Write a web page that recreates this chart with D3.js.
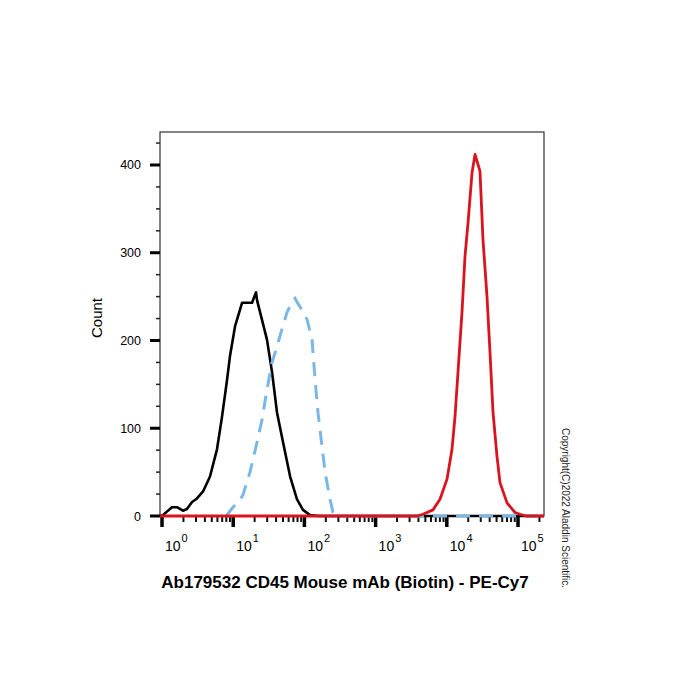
<!DOCTYPE html>
<html>
<head>
<meta charset="utf-8">
<script src="https://cdn.jsdelivr.net/npm/d3@7"></script>
<style>
  body { margin: 0; background: #fff; }
  text { font-family: Arial, "Liberation Sans", sans-serif; }
</style>
</head>
<body>
<div id="chart"></div>
<script>
// histogram data (fluorescence, count)
const blackX = [0.94, 1.03, 1.38, 1.62, 1.97, 2.24, 2.64, 3.1, 3.77, 4.72, 5.92, 6.96, 8.19, 9.0, 10.6, 13.3, 18.4, 20.9, 21.6, 29.8, 35.1, 41.2, 50.1, 63, 78.7, 95.5, 120, 160, 231800];
const blackY = [0, 1, 10, 10, 6, 8, 16, 20, 28, 45, 76, 113, 155, 182, 216, 243, 243, 255, 246, 201, 164, 118, 84, 45, 19, 7, 1, 0, 0];

const blueX = [8, 9.9, 11.7, 13.7, 17.2, 21.6, 25.4, 29.8, 35.1, 41.2, 48.4, 57, 67, 73.8, 81.3, 95.5, 109, 128, 141, 155, 177, 195, 229, 252, 290, 231800];
const blueY = [0, 10, 15, 24, 50, 84, 110, 144, 175, 193, 213, 232, 244, 248, 242, 233, 224, 201, 156, 118, 79, 50, 19, 4, 0, 0];

const redX = [0.94, 3800, 4634, 6400, 8020, 10070, 11830, 13030, 14360, 16340, 18020, 19860, 22600, 24900, 29240, 32220, 36700, 40450, 44580, 50700, 55850, 70100, 90800, 106700, 130000, 231800];
const redY = [0, 0, 2, 7, 19, 42, 76, 113, 164, 232, 296, 334, 391, 412, 393, 315, 250, 186, 118, 68, 38, 15, 4, 2, 0, 0];

const decades = [0, 1, 2, 3, 4, 5];
const yTicks = [0, 100, 200, 300, 400];

const margin = {top: 132, right: 156, bottom: 184, left: 160},
  width = 700 - margin.left - margin.right,
  height = 700 - margin.top - margin.bottom;

const svg = d3.select("#chart")
  .append("svg")
  .attr("width", 700)
  .attr("height", 700)
  .append("g")
  .attr("transform", `translate(${margin.left},${margin.top})`);

const x = d3.scaleLog()
  .domain([0.937, 231800])
  .range([0, width]);

const y = d3.scaleLinear()
  .domain([0, 437.6])
  .range([height, 0]);

// frame
svg.append("rect")
  .attr("width", width)
  .attr("height", height)
  .attr("fill", "none")
  .attr("stroke", "#333")
  .attr("stroke-width", 1.2);

// y axis: minor every 25, major every 100
const yMinor = d3.range(0, 426, 25).filter(v => v % 100 !== 0);
svg.selectAll(".yminor")
  .data(yMinor)
  .join("line")
  .attr("x1", -4).attr("x2", 0)
  .attr("y1", d => y(d)).attr("y2", d => y(d))
  .attr("stroke", "#222").attr("stroke-width", 1.5);
svg.selectAll(".ymajor")
  .data(yTicks)
  .join("line")
  .attr("x1", -10).attr("x2", 0)
  .attr("y1", d => y(d)).attr("y2", d => y(d))
  .attr("stroke", "#000").attr("stroke-width", 3);
svg.selectAll(".ylab")
  .data(yTicks)
  .join("text")
  .attr("x", -19)
  .attr("y", d => y(d) + 4.5)
  .attr("text-anchor", "end")
  .attr("font-size", 12.5)
  .text(d => d);

// x axis: log ticks
const xMinor = [];
decades.forEach(p => { for (let m = 2; m <= 9; m++) xMinor.push(m * Math.pow(10, p)); });
svg.selectAll(".xminor")
  .data(xMinor.filter(v => v <= 231800))
  .join("line")
  .attr("x1", d => x(d)).attr("x2", d => x(d))
  .attr("y1", height).attr("y2", height + 6)
  .attr("stroke", "#111").attr("stroke-width", 2);
svg.selectAll(".xmajor")
  .data(decades)
  .join("line")
  .attr("x1", d => x(Math.pow(10, d))).attr("x2", d => x(Math.pow(10, d)))
  .attr("y1", height).attr("y2", height + 11)
  .attr("stroke", "#000").attr("stroke-width", 3.5);

const xl = svg.selectAll(".xlab")
  .data(decades)
  .join("text")
  .attr("x", d => x(Math.pow(10, d)) + 3)
  .attr("y", height + 35)
  .attr("font-size", 14);
xl.append("tspan").text("10");
xl.append("tspan").attr("dy", -9).attr("dx", 1).attr("font-size", 11).text(d => d);

// curves
const line = d3.line()
  .x(d => x(d[0]))
  .y(d => y(d[1]));

svg.append("path")
  .datum(d3.zip(blackX, blackY))
  .attr("fill", "none")
  .attr("stroke", "#000")
  .attr("stroke-width", 2.6)
  .attr("stroke-linejoin", "round")
  .attr("d", line);

svg.append("path")
  .datum(d3.zip(blueX, blueY))
  .attr("fill", "none")
  .attr("stroke", "#7ab6e6")
  .attr("stroke-width", 3)
  .attr("stroke-dasharray", "14,9")
  .attr("d", line);

svg.append("path")
  .datum(d3.zip(redX, redY))
  .attr("fill", "none")
  .attr("stroke", "#d9141e")
  .attr("stroke-width", 2.8)
  .attr("stroke-linejoin", "round")
  .attr("d", line);

// labels
svg.append("text")
  .attr("transform", `translate(${-58},${y(0) - 198}) rotate(-90)`)
  .attr("text-anchor", "middle")
  .attr("font-size", 15)
  .text("Count");

svg.append("text")
  .attr("x", width / 2 - 7)
  .attr("y", height + 72)
  .attr("text-anchor", "middle")
  .attr("font-size", 17)
  .attr("font-weight", "bold")
  .text("Ab179532 CD45 Mouse mAb (Biotin) - PE-Cy7");

svg.append("text")
  .attr("transform", `translate(${width + 18},${height - 8}) rotate(90)`)
  .attr("text-anchor", "middle")
  .attr("font-size", 10)
  .attr("fill", "#222")
  .text("Copyright(C)2022 Aladdin Scientific.");
</script>
</body>
</html>
